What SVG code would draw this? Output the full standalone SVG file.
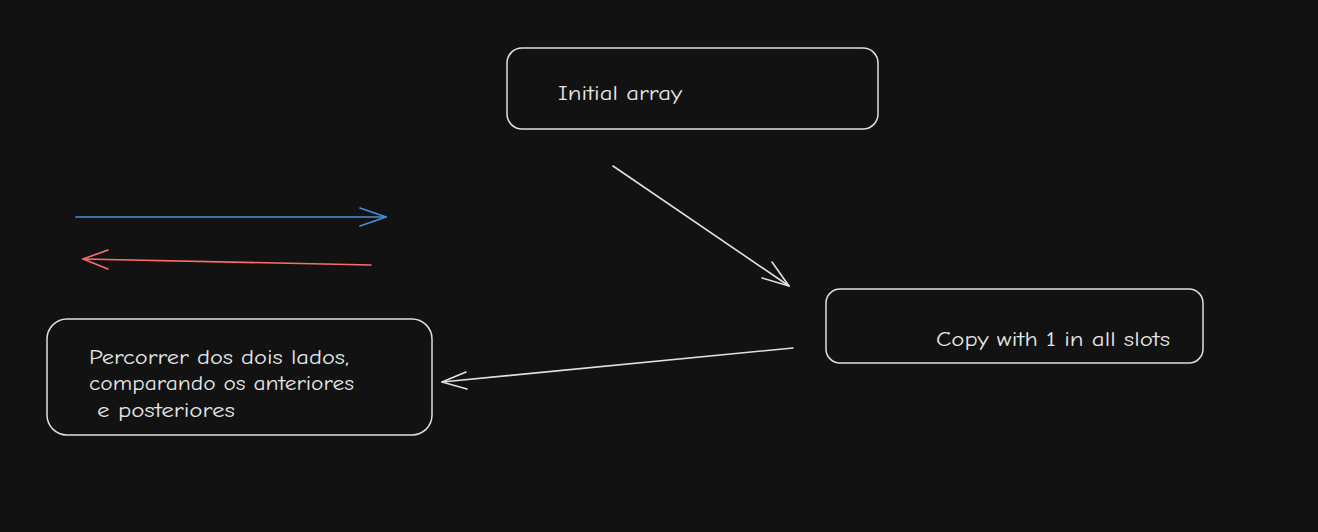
<svg xmlns="http://www.w3.org/2000/svg" width="1318" height="532" viewBox="0 0 1318 532">
<style>
.box{fill:#121212;stroke:#e0e0e0;stroke-width:1.5}
.lbl{font-family:"Comic Neue","Liberation Sans",sans-serif;font-size:21px;fill:#e6e6e6}
.conn{fill:none;stroke-width:1.6;stroke-linecap:round;stroke-linejoin:round}
</style>
<rect width="1318" height="532" fill="#121212"/>
<g id="node-initial">
<rect class="box" x="507" y="48" width="371" height="81" rx="15"/>
<text class="lbl" x="558" y="100" textLength="124" lengthAdjust="spacingAndGlyphs">Initial array</text>
</g>
<g id="node-copy">
<rect class="box" x="826" y="289" width="377" height="74" rx="14"/>
<text class="lbl" x="936" y="346" textLength="234" lengthAdjust="spacingAndGlyphs">Copy with 1 in all slots</text>
</g>
<g id="node-percorrer">
<rect class="box" x="47" y="319" width="385" height="116" rx="20"/>
<text class="lbl" x="89" y="364" textLength="260" lengthAdjust="spacingAndGlyphs">Percorrer dos dois lados,</text>
<text class="lbl" x="89" y="390" textLength="265" lengthAdjust="spacingAndGlyphs">comparando os anteriores</text>
<text class="lbl" x="97" y="417" textLength="138" lengthAdjust="spacingAndGlyphs">e posteriores</text>
</g>
<g id="connectors">
<g stroke="#4a8fd8" class="conn">
<path d="M76 217 L386 217"/>
<path d="M360 208 L386 217 L360 226"/>
</g>
<g stroke="#ff6b6b" class="conn">
<path d="M371 265 L83 259"/>
<path d="M108 250 L83 259 L108 269"/>
</g>
<g stroke="#e0e0e0" class="conn">
<path d="M613 166 L789 286"/>
<path d="M772 262 L789 286 L762 278"/>
<path d="M793 348 L442 382"/>
<path d="M466 372 L442 382 L467 389"/>
</g>
</g>
</svg>
